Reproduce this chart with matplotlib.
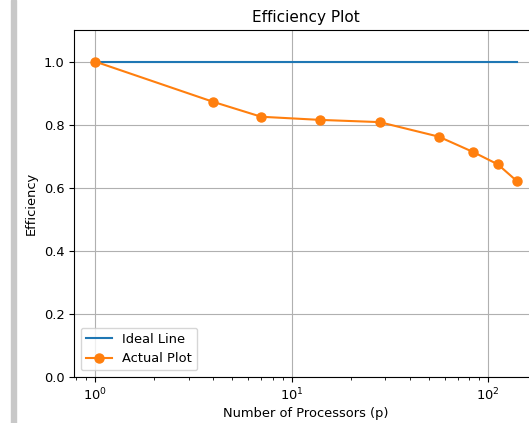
import matplotlib
matplotlib.use("Agg")
import matplotlib.pyplot as plt
from matplotlib.patches import Rectangle

processors = [1, 4, 7, 14, 28, 56, 84, 112, 140]
efficiency = [1.0, 0.872, 0.825, 0.815, 0.808, 0.762, 0.713, 0.674, 0.621]
ideal = [1.0] * len(processors)

plt.rcParams["font.size"] = 9.4

W, H = 529, 423
fig = plt.figure(figsize=(W / 100, H / 100), dpi=100)

# gray strip from the screenshot on the left
fig.patches.append(Rectangle((11 / W, 0), 5 / W, 1, transform=fig.transFigure,
                             color="#c8c8c8", zorder=0))

# axes run past the right edge like the cropped original
ax = fig.add_axes([74 / W, 46 / H, 464 / W, 347 / H])

ax.plot(processors, ideal, label="Ideal Line")
ax.plot(processors, efficiency, marker="o", markersize=6.5, label="Actual Plot")
ax.set_xscale("log")
ax.set_ylim(0, 1.1)

ax.set_title("Efficiency Plot", fontsize=11)
ax.set_xlabel("Number of Processors (p)", labelpad=3)
ax.set_ylabel("Efficiency")
ax.grid(True)
ax.legend(loc="lower left")

fig.savefig("out.png", dpi=100)
